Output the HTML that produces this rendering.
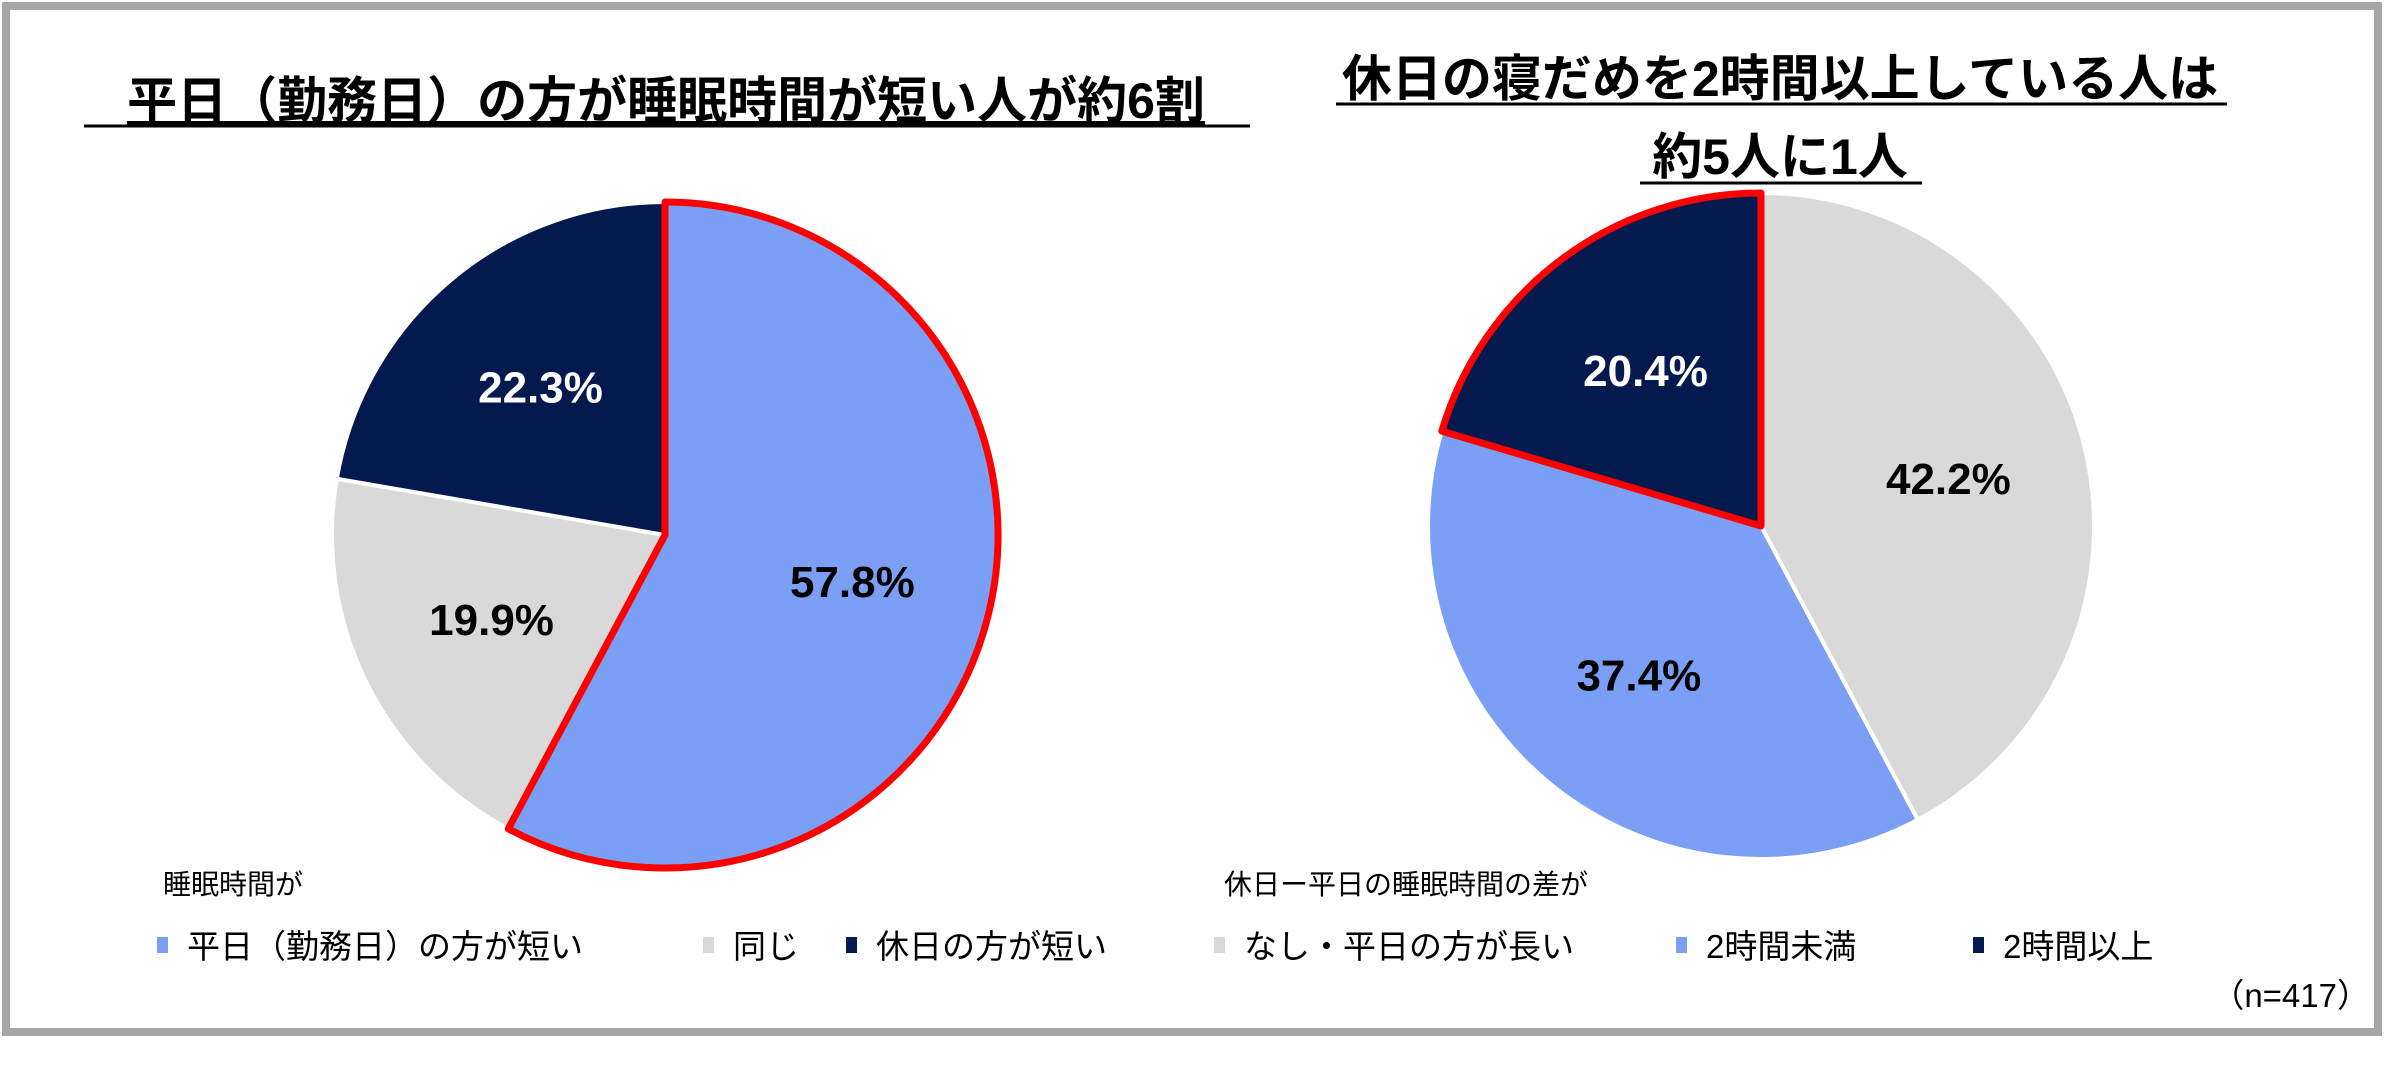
<!DOCTYPE html>
<html><head><meta charset="utf-8"><style>
html,body{margin:0;padding:0;background:#fff;}
svg{display:block;font-family:"Liberation Sans","Noto Sans CJK JP",sans-serif;}
</style></head><body>
<svg id="chart" width="2385" height="1086" viewBox="0 0 2385 1086" xmlns="http://www.w3.org/2000/svg">
<rect x="6" y="6" width="2372" height="1026" fill="#fff" stroke="#a6a6a6" stroke-width="8"/>
<text x="666" y="118" text-anchor="middle" font-size="50" font-weight="bold" text-decoration="underline">平日（勤務日）の方が睡眠時間が短い人が約6割</text>
<line x1="84" y1="126" x2="1250" y2="126" stroke="#000" stroke-width="3"/>
<text x="1780" y="96" text-anchor="middle" font-size="50" font-weight="bold">休日の寝だめを2時間以上している人は</text>
<line x1="1336" y1="104" x2="2227" y2="104" stroke="#000" stroke-width="3"/>
<text x="1780" y="174" text-anchor="middle" font-size="50" font-weight="bold">約5人に1人</text>
<line x1="1640" y1="183" x2="1922" y2="183" stroke="#000" stroke-width="3"/>
<g id="pies"></g>
<text x="163" y="894" font-size="28">睡眠時間が</text>
<text x="1224" y="894" font-size="28">休日ー平日の睡眠時間の差が</text>
<g id="legend"></g>
<text x="2370" y="1007" text-anchor="end" font-size="33">（n=417）</text>
</svg>
<script>
const leftCategories = ["平日（勤務日）の方が短い", "同じ", "休日の方が短い"];
const leftValues = [57.8, 19.9, 22.3];
const rightCategories = ["なし・平日の方が長い", "2時間未満", "2時間以上"];
const rightValues = [42.2, 37.4, 20.4];

const NS = "http://www.w3.org/2000/svg";
const pies = document.getElementById("pies");
const legend = document.getElementById("legend");

function drawPie(values, cfg, prefix) {
  const total = values.reduce((a, b) => a + b, 0);
  let acc = 0;
  const pt = (f, r) => [cfg.cx + r * Math.sin(f * 2 * Math.PI), cfg.cy - r * Math.cos(f * 2 * Math.PI)];
  const slices = [];
  values.forEach((v, i) => {
    const a0 = acc / total, a1 = (acc + v) / total;
    acc += v;
    const p0 = pt(a0, cfg.r), p1 = pt(a1, cfg.r);
    const large = (a1 - a0) > 0.5 ? 1 : 0;
    const d = `M${cfg.cx},${cfg.cy} L${p0[0]},${p0[1]} A${cfg.r},${cfg.r} 0 ${large} 1 ${p1[0]},${p1[1]} Z`;
    const path = document.createElementNS(NS, "path");
    path.setAttribute("d", d);
    path.setAttribute("fill", cfg.colors[i]);
    path.setAttribute("stroke", "#fff");
    path.setAttribute("stroke-width", "4");
    
    
    pies.appendChild(path);
    slices.push(d);
    const mid = (a0 + a1) / 2;
    const lp = pt(mid, cfg.r * 0.58);
    const t = document.createElementNS(NS, "text");
    t.setAttribute("x", lp[0]);
    t.setAttribute("y", lp[1] + 15);
    t.setAttribute("text-anchor", "middle");
    t.setAttribute("font-size", "44");
    t.setAttribute("font-weight", "bold");
    t.setAttribute("fill", cfg.textColors[i]);
    t.textContent = v.toFixed(1) + "%";
    
    
    pies.appendChild(t);
  });
  const hl = document.createElementNS(NS, "path");
  hl.setAttribute("d", slices[cfg.highlight]);
  hl.setAttribute("fill", "none");
  hl.setAttribute("stroke", "#ff0000");
  hl.setAttribute("stroke-width", "7");
  hl.setAttribute("stroke-linejoin", "round");
  
  
  pies.appendChild(hl);
}

drawPie(leftValues, {cx: 665, cy: 535, r: 333, colors: ["#7b9ff5", "#d9d9d9", "#041a4f"], textColors: ["#000", "#000", "#fff"], highlight: 0}, "left-pie");
drawPie(rightValues, {cx: 1761, cy: 526, r: 333, colors: ["#d9d9d9", "#7b9ff5", "#041a4f"], textColors: ["#000", "#000", "#fff"], highlight: 2}, "right-pie");

function drawLegend(cats, colors, xs, prefix) {
  cats.forEach((c, i) => {
    const r = document.createElementNS(NS, "rect");
    r.setAttribute("x", xs[i]);
    r.setAttribute("y", 937);
    r.setAttribute("width", 11);
    r.setAttribute("height", 16);
    r.setAttribute("fill", colors[i]);
    
    
    legend.appendChild(r);
    const t = document.createElementNS(NS, "text");
    t.setAttribute("x", xs[i] + 30);
    t.setAttribute("y", 958);
    t.setAttribute("font-size", "33");
    t.textContent = c;
    
    
    legend.appendChild(t);
  });
}
drawLegend(leftCategories, ["#7b9ff5", "#d9d9d9", "#041a4f"], [157, 703, 846], "left");
drawLegend(rightCategories, ["#d9d9d9", "#7b9ff5", "#041a4f"], [1214, 1676, 1973], "right");
</script>
</body></html>
